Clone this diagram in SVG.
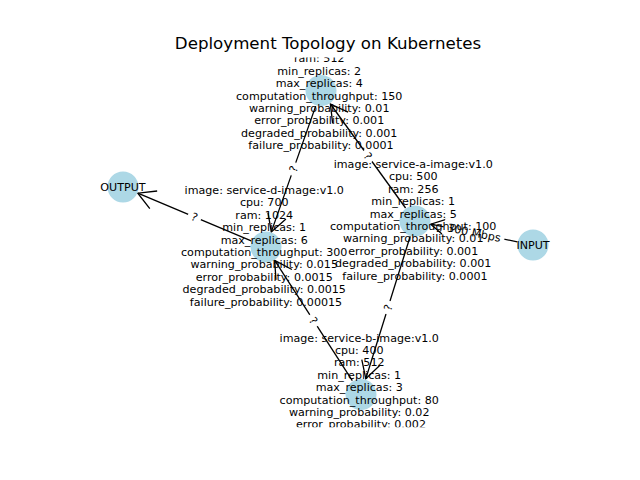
<svg xmlns="http://www.w3.org/2000/svg" width="640" height="480" viewBox="0 0 640 480">
<style>
.bg{fill:#fff}
.edge{stroke:#000;stroke-width:1.3;fill:none;marker-end:url(#arr)}
.node{fill:#add8e6}
.lbl{font-family:"DejaVu Sans","Liberation Sans",sans-serif;font-size:11.11px;fill:#000;text-anchor:middle}
.elbl{font-family:"DejaVu Sans","Liberation Sans",sans-serif;font-size:11.11px;fill:#000;text-anchor:middle}
.ebox{fill:#fff;stroke:#fff}
.title{font-family:"DejaVu Sans","Liberation Sans",sans-serif;font-size:16.67px;fill:#000;text-anchor:middle}
</style>
<defs>
<marker id="arr" markerUnits="userSpaceOnUse" orient="auto" refX="0" refY="0" markerWidth="40" markerHeight="40" viewBox="-20 -20 40 40" overflow="visible">
<path d="M-17,-9.5 L0,0 L-17,9.5" fill="none" stroke="#000" stroke-width="1.3"/>
</marker>
<clipPath id="axes"><rect x="80" y="57.6" width="496" height="369.6"/></clipPath>
</defs>
<rect class="bg" x="0" y="0" width="640" height="480"/>
<text class="title" x="328" y="49.3">Deployment Topology on Kubernetes</text>
<g id="connectors">
<line class="edge" x1="517.3" y1="241.8" x2="430.7" y2="224.2"/>
<line class="edge" x1="405.6" y1="208" x2="330.4" y2="104"/>
<line class="edge" x1="315.7" y1="106.1" x2="271.3" y2="231.9"/>
<line class="edge" x1="410.2" y1="236.3" x2="365.8" y2="378.7"/>
<line class="edge" x1="352.3" y1="380.6" x2="274.7" y2="260.4"/>
<line class="edge" x1="251.2" y1="240.8" x2="137.8" y2="193.2"/>
<g transform="translate(474,233) rotate(11.5)"><rect class="ebox" x="-30.5" y="-9.8" width="61" height="19.6" rx="3.3"/><text class="elbl" x="0" y="3.6">300 Mbps</text></g>
<g transform="translate(368,156) rotate(54.1)"><rect class="ebox" x="-6.3" y="-9.8" width="12.6" height="19.6" rx="3.3"/><text class="elbl" x="0" y="4">?</text></g>
<g transform="translate(293.5,169) rotate(-70.6)"><rect class="ebox" x="-6.3" y="-9.8" width="12.6" height="19.6" rx="3.3"/><text class="elbl" x="0" y="4">?</text></g>
<g transform="translate(388,307.5) rotate(-72.7)"><rect class="ebox" x="-6.3" y="-9.8" width="12.6" height="19.6" rx="3.3"/><text class="elbl" x="0" y="4">?</text></g>
<g transform="translate(313.5,320.5) rotate(57.1)"><rect class="ebox" x="-6.3" y="-9.8" width="12.6" height="19.6" rx="3.3"/><text class="elbl" x="0" y="4">?</text></g>
<g transform="translate(194.5,217) rotate(22.8)"><rect class="ebox" x="-6.3" y="-9.8" width="12.6" height="19.6" rx="3.3"/><text class="elbl" x="0" y="4">?</text></g>
</g>
<g id="node-input">
<circle class="node" cx="533" cy="245" r="15.5"/>
<text class="lbl" x="533" y="249">INPUT</text>
</g>
<g id="node-output">
<circle class="node" cx="123" cy="187" r="15.5"/>
<text class="lbl" x="123" y="191">OUTPUT</text>
</g>
<g id="node-service-a">
<circle class="node" cx="415" cy="221" r="15.5"/>
<text class="lbl" clip-path="url(#axes)">
<tspan x="415" y="168">image: service-a-image:v1.0</tspan>
<tspan x="415" y="180.4">cpu: 500</tspan>
<tspan x="415" y="192.8">ram: 256</tspan>
<tspan x="415" y="205.2">min_replicas: 1</tspan>
<tspan x="415" y="217.6">max_replicas: 5</tspan>
<tspan x="415" y="230">computation_throughput: 100</tspan>
<tspan x="415" y="242.4">warning_probability: 0.01</tspan>
<tspan x="415" y="254.8">error_probability: 0.001</tspan>
<tspan x="415" y="267.2">degraded_probability: 0.001</tspan>
<tspan x="415" y="279.6">failure_probability: 0.0001</tspan>
</text>
</g>
<g id="node-service-b">
<circle class="node" cx="361" cy="394.5" r="15.5"/>
<text class="lbl" clip-path="url(#axes)">
<tspan x="361" y="341.5">image: service-b-image:v1.0</tspan>
<tspan x="361" y="353.9">cpu: 400</tspan>
<tspan x="361" y="366.3">ram: 512</tspan>
<tspan x="361" y="378.7">min_replicas: 1</tspan>
<tspan x="361" y="391.1">max_replicas: 3</tspan>
<tspan x="361" y="403.5">computation_throughput: 80</tspan>
<tspan x="361" y="415.9">warning_probability: 0.02</tspan>
<tspan x="361" y="428.3">error_probability: 0.002</tspan>
</text>
</g>
<g id="node-service-c">
<circle class="node" cx="321" cy="90.5" r="15.5"/>
<text class="lbl" clip-path="url(#axes)">
<tspan x="321" y="62.3">ram: 512</tspan>
<tspan x="321" y="74.7">min_replicas: 2</tspan>
<tspan x="321" y="87.1">max_replicas: 4</tspan>
<tspan x="321" y="99.5">computation_throughput: 150</tspan>
<tspan x="321" y="111.9">warning_probability: 0.01</tspan>
<tspan x="321" y="124.3">error_probability: 0.001</tspan>
<tspan x="321" y="136.7">degraded_probability: 0.001</tspan>
<tspan x="321" y="149.1">failure_probability: 0.0001</tspan>
</text>
</g>
<g id="node-service-d">
<circle class="node" cx="266" cy="247" r="15.5"/>
<text class="lbl" clip-path="url(#axes)">
<tspan x="266" y="194">image: service-d-image:v1.0</tspan>
<tspan x="266" y="206.4">cpu: 700</tspan>
<tspan x="266" y="218.8">ram: 1024</tspan>
<tspan x="266" y="231.2">min_replicas: 1</tspan>
<tspan x="266" y="243.6">max_replicas: 6</tspan>
<tspan x="266" y="256">computation_throughput: 300</tspan>
<tspan x="266" y="268.4">warning_probability: 0.015</tspan>
<tspan x="266" y="280.8">error_probability: 0.0015</tspan>
<tspan x="266" y="293.2">degraded_probability: 0.0015</tspan>
<tspan x="266" y="305.6">failure_probability: 0.00015</tspan>
</text>
</g>
</svg>
